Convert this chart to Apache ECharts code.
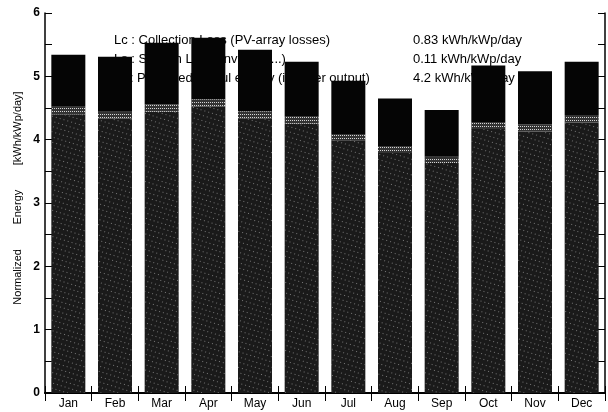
<!DOCTYPE html>
<html>
<head>
<meta charset="utf-8">
<script src="https://cdn.jsdelivr.net/npm/echarts@6/dist/echarts.min.js"></script>
<style>
html,body{margin:0;padding:0;background:#fff;}
#c{width:608px;height:412px;}
</style>
</head>
<body>
<div id="c"></div>
<script>
var months = ['Jan','Feb','Mar','Apr','May','Jun','Jul','Aug','Sep','Oct','Nov','Dec'];
var yfValues = [4.40,4.33,4.44,4.52,4.34,4.25,3.99,3.79,3.63,4.17,4.13,4.27];
var lsValues = [0.12,0.11,0.12,0.12,0.11,0.11,0.10,0.10,0.10,0.11,0.11,0.12];
var lcValues = [0.82,0.87,0.97,0.97,0.97,0.87,0.84,0.76,0.74,0.89,0.84,0.84];
var legendLabels = ['Lc : Collection Loss (PV-array losses)','Ls : System Loss (inverter, ...)','Yf : Produced useful energy (inverter output)'];
var legendValues = ['0.83 kWh/kWp/day','0.11 kWh/kWp/day','4.2 kWh/kWp/day'];
var yTitle = 'Normalized        Energy        [kWh/kWp/day]';

var chart = echarts.init(document.getElementById('c'), null, {renderer:'canvas'});
var font = 'Liberation Sans, Arial, Helvetica, sans-serif';
var legendRows = [40, 59, 78];
var graphics = [];
legendLabels.forEach(function(t,i){
  graphics.push({type:'text', left:114, top:legendRows[i]-6, z:1,
    style:{text:t, font:'13px ' + font, fill:'#000'}});
  graphics.push({type:'text', left:413, top:legendRows[i]-6, z:1,
    style:{text:legendValues[i], font:'13px ' + font, fill:'#000'}});
});
graphics.push({type:'text', x:18, y:198, rotation:Math.PI/2, z:1,
  style:{text:yTitle, font:'11px ' + font, fill:'#000', align:'center', verticalAlign:'middle'}});

var axisLineStyle = {color:'#000', width:1.5};
var option = {
  animation:false,
  backgroundColor:'#fff',
  textStyle:{fontFamily:font},
  grid:{left:45, right:3, top:13, bottom:19, containLabel:false},
  graphic:graphics,
  xAxis:[{
    type:'category', data:months, position:'bottom',
    axisLine:{show:true, lineStyle:axisLineStyle},
    axisTick:{show:true, inside:true, length:7, lineStyle:{color:'#000', width:1}},
    axisLabel:{color:'#000', fontSize:12, margin:5, fontFamily:font}
  },{
    type:'category', data:months, position:'top',
    axisLine:{show:true, lineStyle:{color:'#000', width:2}},
    axisTick:{show:true, inside:true, length:8, lineStyle:{color:'#000', width:1}},
    axisLabel:{show:false}
  }],
  yAxis:[{
    type:'value', min:0, max:6, interval:1, position:'left',
    axisLine:{show:true, lineStyle:axisLineStyle},
    axisTick:{show:true, inside:true, length:7, lineStyle:{color:'#000'}},
    minorTick:{show:true, splitNumber:2, length:7, lineStyle:{color:'#000'}},
    splitLine:{show:false},
    axisLabel:{color:'#000', fontSize:12, fontWeight:'bold', margin:5, fontFamily:font}
  },{
    type:'value', min:0, max:6, interval:1, position:'right',
    axisLine:{show:true, lineStyle:axisLineStyle},
    axisTick:{show:true, inside:true, length:7, lineStyle:{color:'#000'}},
    minorTick:{show:true, splitNumber:2, length:7, lineStyle:{color:'#000'}},
    splitLine:{show:false},
    axisLabel:{show:false}
  }],
  series:[{
    name:'Yf', type:'bar', stack:'e', data:yfValues, barWidth:34, z:3,
    itemStyle:{color:'#1a1a1a',
      decal:{symbol:'rect', symbolSize:1, color:'rgba(255,255,255,0.4)', dashArrayX:[1,3], dashArrayY:[1,4], rotation:0.3}}
  },{
    name:'Ls', type:'bar', stack:'e', data:lsValues, barWidth:34, z:3,
    itemStyle:{color:'#333',
      decal:{symbol:'rect', symbolSize:1, color:'rgba(255,255,255,0.8)', dashArrayX:[1,1], dashArrayY:[1,2], rotation:0}}
  },{
    name:'Lc', type:'bar', stack:'e', data:lcValues, barWidth:34, z:3,
    itemStyle:{color:'#050505'}
  }]
};
chart.setOption(option);
</script>
</body>
</html>
